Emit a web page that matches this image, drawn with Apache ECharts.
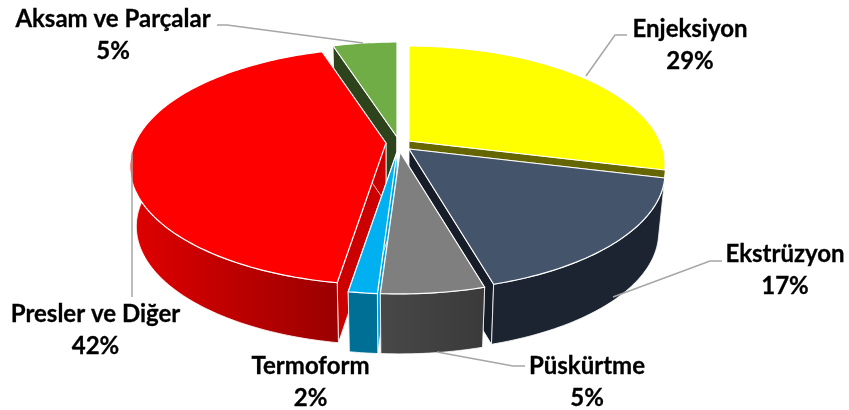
<!DOCTYPE html>
<html>
<head>
<meta charset="utf-8">
<style>
  html, body { margin: 0; padding: 0; background: #fff; }
  #chart-container { width: 849px; height: 410px; }
</style>
<script src="https://cdn.jsdelivr.net/npm/echarts@6/dist/echarts.min.js"></script>
</head>
<body>
<div id="chart-container"></div>
<script>
// data
const categories = ['Enjeksiyon', 'Ekstrüzyon', 'Püskürtme', 'Termoform', 'Presler ve Diğer', 'Aksam ve Parçalar'];
const percentLabels = [29, 17, 5, 2, 42, 5];
// unrounded shares
const shares = [28.9, 16.7, 5.4, 1.5, 42.6, 4.9];

// look of each slice
const topColors = ['#FFFF00', '#44546A', '#7F7F7F', '#00B0F0', '#FF0000', '#70AD47'];
const cutColors = ['#666600', '#161D28', '#333333', '#00A2DE', '#CC0000', '#2C431C'];
const wallLeft = ['#666600', '#1B2430', '#484848', '#006F96', '#E00000', '#2C431C'];
const wallRight = ['#666600', '#1B2430', '#3A3A3A', '#006F96', '#9A0000', '#2C431C'];

// layout: pulled out tips of the slices, back to front drawing order
const tipX = [409, 409, 400, 397, 386, 397];
const tipY = [141, 149, 152, 152, 143, 137];
const drawOrder = [5, 0, 1, 4, 3, 2];
const labelX = [690, 785, 587, 310.5, 95.5, 113];
const labelY = [29, 254, 366, 366, 314, 19];
const leaders = [
  [[586, 76], [615, 35], [627, 35]],
  [[613, 297], [710, 261], [722, 261]],
  [[437, 352], [513, 366], [525, 366]],
  null,
  [[132, 153], [132, 297]],
  [[217, 25], [227, 25], [363, 43]]
];

const radiusX = 251, radiusY = 113.8, depth = 60, persp = 0.198;
// only this part of the rim has a wall facing the viewer
const wallFrom = 1.4, wallTo = 4.97;

// one point of the tilted disc, t clockwise from 12 o'clock, z 0 = top face, 1 = bottom
function project(i, t, r, z) {
  const X = r * Math.sin(t);
  const Y = -r * Math.cos(t);
  const s = 1 / (1 - persp * Y);
  return [
    tipX[i] + radiusX * X * s * (1 - 0.025 * z),
    tipY[i] + radiusY * Y * s + depth * z
  ];
}

function arc(i, t0, t1, z) {
  const pts = [];
  const n = Math.max(2, Math.ceil((t1 - t0) / 0.02));
  for (let k = 0; k <= n; k++) {
    pts.push(project(i, t0 + (t1 - t0) * k / n, 1, z));
  }
  return pts;
}

const total = shares.reduce((a, b) => a + b, 0);
const startAngle = [];
let sum = 0;
shares.forEach(function (v) {
  startAngle.push(sum / total * Math.PI * 2);
  sum += v;
});
startAngle.push(Math.PI * 2);

function poly(points, fill, lineWidth) {
  return {
    type: 'polygon',
    shape: { points: points },
    style: { fill: fill, stroke: '#fff', lineWidth: lineWidth, lineJoin: 'round' }
  };
}

function renderSlice(params, api) {
  const i = drawOrder[api.value(0)];
  const t0 = startAngle[i], t1 = startAngle[i + 1];
  const tipTop = project(i, 0, 0, 0), tipBottom = project(i, 0, 0, 1);
  const cut = function (t) {
    return poly([tipTop, project(i, t, 1, 0), project(i, t, 1, 1), tipBottom], cutColors[i], 0.8);
  };
  const children = [cut(t0), cut(t1)];
  const w0 = Math.max(t0, wallFrom), w1 = Math.min(t1, wallTo);
  if (w0 < w1) {
    const gradient = new echarts.graphic.LinearGradient(0, 0, 1, 0, [
      { offset: 0, color: wallLeft[i] },
      { offset: 1, color: wallRight[i] }
    ]);
    // the first slice's wall is almost all covered, a white edge on it would show
    children.push(poly(arc(i, w0, w1, 0).concat(arc(i, w0, w1, 1).reverse()), gradient, i === 0 ? 0 : 0.8));
  }
  children.push(poly([tipTop].concat(arc(i, t0, t1, 0)), topColors[i], 1.2));
  return { type: 'group', children: children };
}

function labelText(x, y, text) {
  return {
    type: 'text',
    x: x,
    y: y,
    style: {
      text: text,
      font: 'bold 24px Lato, sans-serif',
      fill: '#000',
      stroke: '#000',
      lineWidth: 0.3,
      align: 'center',
      verticalAlign: 'middle'
    }
  };
}

function renderLabel(params, api) {
  const i = api.value(0);
  const children = [];
  if (leaders[i]) {
    children.push({
      type: 'polyline',
      shape: { points: leaders[i] },
      style: { fill: 'none', stroke: '#A6A6A6', lineWidth: 1.5 }
    });
  }
  children.push(labelText(labelX[i], labelY[i], categories[i]));
  children.push(labelText(labelX[i], labelY[i] + 32, percentLabels[i] + '%'));
  return { type: 'group', children: children };
}

var dom = document.getElementById('chart-container');
var myChart = echarts.init(dom, null, { renderer: 'canvas' });

var option = {
  animation: false,
  backgroundColor: '#fff',
  series: [
    {
      type: 'custom',
      coordinateSystem: 'none',
      silent: true,
      renderItem: renderSlice,
      data: drawOrder.map(function (d, k) { return [k]; })
    },
    {
      type: 'custom',
      coordinateSystem: 'none',
      silent: true,
      renderItem: renderLabel,
      data: categories.map(function (c, k) { return [k]; })
    }
  ]
};

myChart.setOption(option);
window.addEventListener('resize', myChart.resize);
</script>
</body>
</html>
